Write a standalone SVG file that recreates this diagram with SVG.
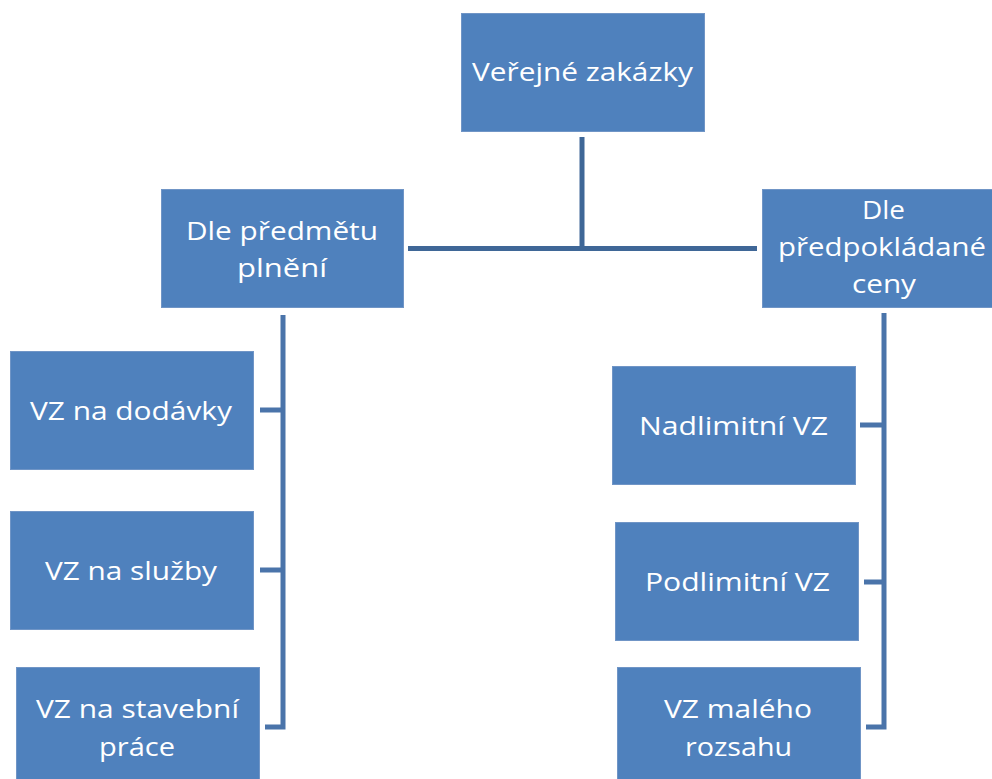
<svg xmlns="http://www.w3.org/2000/svg" width="992" height="779" viewBox="0 0 992 779">
<defs>
<style>
.box{fill:#4F81BD;stroke:#7095C6;stroke-width:1}
.t{font-family:"Open Sans","Noto Sans","DejaVu Sans",sans-serif;font-size:26px;fill:#FFFFFF}
.c1{fill:none;stroke:#3F6797;stroke-width:5}
.c2{fill:none;stroke:#4A74AA;stroke-width:5}
</style>
</defs>
<rect width="992" height="779" fill="#FFFFFF"/>
<g id="connectors">
<path class="c1" d="M582 137 V249 M408 248.5 H757"/>
<path class="c2" d="M283 315 V727 M260 410 H283 M260 570 H283 M265 727 H285.5"/>
<path class="c2" d="M884 313 V728 M860 425 H884 M864 582 H884 M866 727 H886.5"/>
</g>
<g id="n-root">
<rect class="box" x="461.5" y="13.5" width="243" height="118"/>
<text class="t" x="472" y="81" textLength="221" lengthAdjust="spacingAndGlyphs">Veřejné zakázky</text>
</g>
<g id="n-predmet">
<rect class="box" x="161.5" y="189.5" width="242" height="118"/>
<text class="t" x="186" y="240" textLength="192" lengthAdjust="spacingAndGlyphs">Dle předmětu</text>
<text class="t" x="237" y="277" textLength="90" lengthAdjust="spacingAndGlyphs">plnění</text>
</g>
<g id="n-cena">
<rect class="box" x="762.5" y="189.5" width="242" height="118"/>
<text class="t" x="862" y="219" textLength="43" lengthAdjust="spacingAndGlyphs">Dle</text>
<text class="t" x="778" y="256" textLength="208" lengthAdjust="spacingAndGlyphs">předpokládané</text>
<text class="t" x="852" y="293" textLength="64" lengthAdjust="spacingAndGlyphs">ceny</text>
</g>
<g id="n-dodavky">
<rect class="box" x="10.5" y="351.5" width="243" height="118"/>
<text class="t" x="30" y="420" textLength="202" lengthAdjust="spacingAndGlyphs">VZ na dodávky</text>
</g>
<g id="n-sluzby">
<rect class="box" x="10.5" y="511.5" width="243" height="118"/>
<text class="t" x="45" y="580" textLength="172" lengthAdjust="spacingAndGlyphs">VZ na služby</text>
</g>
<g id="n-stavebni">
<rect class="box" x="16.5" y="667.5" width="243" height="118"/>
<text class="t" x="36" y="718" textLength="203" lengthAdjust="spacingAndGlyphs">VZ na stavební</text>
<text class="t" x="99" y="756" textLength="76" lengthAdjust="spacingAndGlyphs">práce</text>
</g>
<g id="n-nadlimitni">
<rect class="box" x="612.5" y="366.5" width="243" height="118"/>
<text class="t" x="639" y="435" textLength="189" lengthAdjust="spacingAndGlyphs">Nadlimitní VZ</text>
</g>
<g id="n-podlimitni">
<rect class="box" x="615.5" y="522.5" width="243" height="118"/>
<text class="t" x="645" y="591" textLength="185" lengthAdjust="spacingAndGlyphs">Podlimitní VZ</text>
</g>
<g id="n-maleho">
<rect class="box" x="617.5" y="667.5" width="243" height="118"/>
<text class="t" x="664" y="718" textLength="148" lengthAdjust="spacingAndGlyphs">VZ malého</text>
<text class="t" x="685" y="756" textLength="107" lengthAdjust="spacingAndGlyphs">rozsahu</text>
</g>
</svg>
